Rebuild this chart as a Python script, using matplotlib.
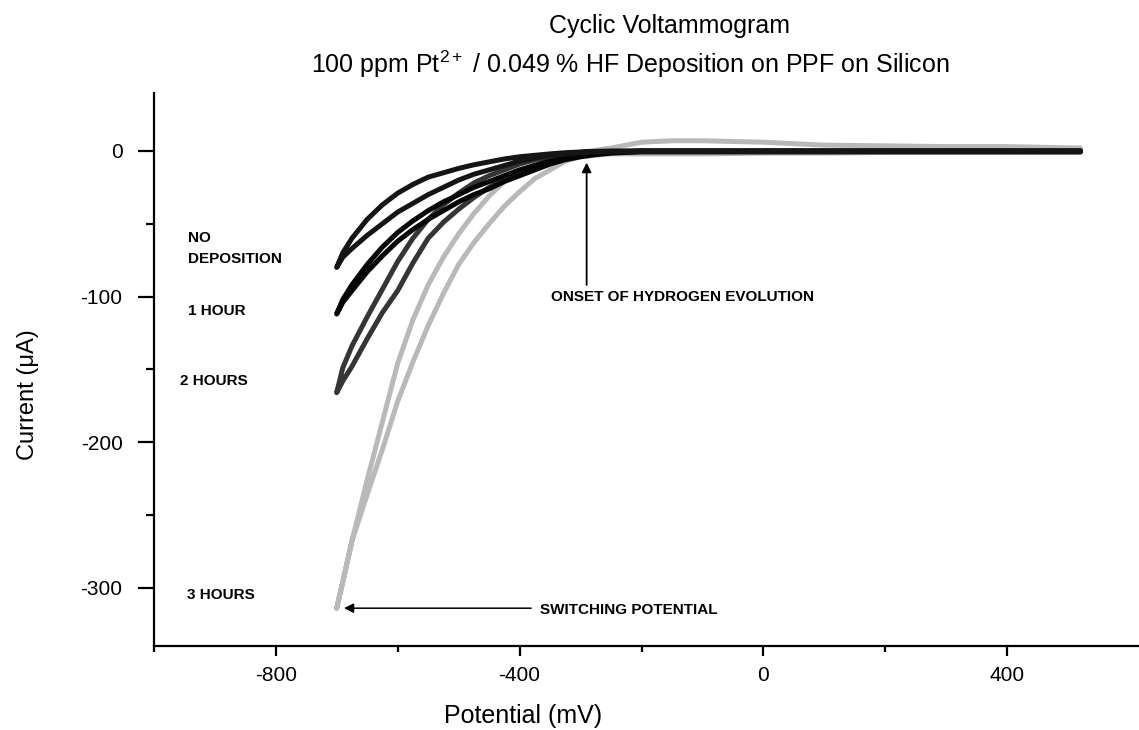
import matplotlib
matplotlib.use('Agg')
import matplotlib.pyplot as plt
from matplotlib.ticker import MultipleLocator, FixedLocator

plt.rcParams['font.family'] = ['Liberation Sans', 'DejaVu Sans']
plt.rcParams['mathtext.fontset'] = 'custom'
plt.rcParams['mathtext.rm'] = 'Liberation Sans'
plt.rcParams['mathtext.it'] = 'Liberation Sans:italic'
plt.rcParams['axes.unicode_minus'] = False

# potential grid (mV) of each sweep branch
E_GRID = [520, 400, 300, 200, 100, 0, -100, -150, -200, -250, -275, -300, -325, -350, -375,
          -400, -425, -450, -475, -500, -525, -550, -575, -600, -625, -650, -675, -690, -700]

# current (uA): branch A = upper line of each loop, branch B = lower line
NODEP_A = [0, 0, 0, 0, 0, 0, 0, 0, 0, 0, -0.3, -0.7, -1.2, -2, -3,
           -4, -5.5, -7.5, -9.5, -12, -15, -18, -23, -29, -37, -47, -60, -70, -80]
NODEP_B = [-0.5, -0.5, -0.5, -0.5, -0.5, -0.5, -0.5, -0.5, -0.5, -0.5, -0.7, -1, -2, -3, -5,
           -7, -10, -13, -16, -20, -25, -30, -36, -42, -50, -58, -67, -73, -80]
HOUR1_A = [0, 0, 0, 0, 0, 0, 0, 0, 0, -1, -2, -3, -5, -7, -10,
           -13, -17, -21, -25, -30, -35, -41, -48, -56, -66, -78, -92, -102, -112]
HOUR1_B = [-0.5, -0.5, -0.5, -0.5, -0.5, -0.5, -0.5, -0.5, -0.5, -1.5, -2.5, -4, -6, -9, -13,
           -17, -21, -26, -30, -35, -41, -47, -54, -62, -72, -83, -96, -104, -112]
HOUR2_A = [0, 0, 0, 0, 0, 0, 0, 0, 0, -0.5, -1, -1.5, -2.5, -4, -6,
           -9, -13, -17, -22, -29, -37, -47, -60, -76, -95, -114, -134, -149, -166]
HOUR2_B = [-0.5, -0.5, -0.5, -0.5, -0.5, -0.5, -0.5, -0.5, -0.5, -1, -2, -3, -5, -7, -10,
           -14, -19, -25, -32, -40, -49, -60, -77, -96, -111, -129, -148, -158, -166]
HOUR3_A = [2, 3, 3, 3.5, 4, 6, 7, 7, 6, 2, 0.5, -1, -3, -5, -9,
           -14, -21, -31, -43, -57, -73, -92, -116, -146, -186, -226, -268, -296, -314]
HOUR3_B = [-1, -1, -1, -1, -1.5, -1.5, -2, -2, -2, -2, -3, -4, -7, -13, -19,
           -28, -38, -50, -63, -78, -98, -120, -145, -172, -205, -236, -268, -296, -314]

CURVES = [
    (NODEP_A, NODEP_B, '#151515'),
    (HOUR1_A, HOUR1_B, '#050505'),
    (HOUR2_A, HOUR2_B, '#353535'),
    (HOUR3_A, HOUR3_B, '#b9b9b9'),
]

fig = plt.figure(figsize=(11.39, 7.30), dpi=100, facecolor='white')
ax = fig.add_axes([0.135, 0.115, 0.865, 0.758])

for fwd, rev, farbe in reversed(CURVES):
    # cathodic sweep down to the switching potential and back again
    x = E_GRID + E_GRID[::-1]
    y = fwd + rev[::-1]
    ax.plot(x, y, color=farbe, lw=3.6, solid_joinstyle='round', solid_capstyle='round', zorder=3)

ax.set_xlim(-1000, 616)
ax.set_ylim(-340, 40)

ax.spines['top'].set_visible(False)
ax.spines['right'].set_visible(False)
for s in ('left', 'bottom'):
    ax.spines[s].set_linewidth(1.6)

ax.xaxis.set_major_locator(MultipleLocator(400))
ax.xaxis.set_minor_locator(FixedLocator([-1000, -600, -200, 200]))
ax.yaxis.set_major_locator(MultipleLocator(100))
ax.yaxis.set_minor_locator(MultipleLocator(50))
ax.tick_params(axis='x', which='major', direction='out', length=7.5, width=1.6, pad=7, labelsize=15)
ax.tick_params(axis='x', which='minor', direction='out', length=4, width=1.6)
ax.tick_params(axis='y', which='major', direction='out', length=11.5, width=1.6, pad=11, labelsize=15)
ax.tick_params(axis='y', which='minor', direction='out', length=6, width=1.6)

ax.set_xlabel('Potential (mV)', fontsize=18)
ax.xaxis.set_label_coords(0.375, -0.105)
ax.set_ylabel('Current (\u03bcA)', fontsize=17, va='center')
ax.yaxis.set_label_coords(-0.128, 0.454)

fig.text(0.588, 0.965, 'Cyclic Voltammogram', ha='center', va='center', fontsize=18)
fig.text(0.553, 0.912, r'100 ppm Pt$^{2+}$ / 0.049 % HF Deposition on PPF on Silicon',
         ha='center', va='center', fontsize=18)

# Beschriftungen der Kurven
lab = dict(fontsize=11, fontweight='bold', ha='left', va='center')
ax.text(-944, -60, 'NO', **lab)
ax.text(-944, -74, 'DEPOSITION', **lab)
ax.text(-944, -110, '1 HOUR', **lab)
ax.text(-957, -158, '2 HOURS', **lab)
ax.text(-945, -305, '3 HOURS', **lab)
ax.text(-348, -100.5, 'ONSET OF HYDROGEN EVOLUTION', **lab)
ax.text(-367, -315, 'SWITCHING POTENTIAL', **lab)

ax.annotate('', xy=(-290, -8), xytext=(-290, -92),
            arrowprops=dict(arrowstyle='-|>', color='black', lw=1.3, mutation_scale=14, shrinkA=0, shrinkB=0))
ax.annotate('', xy=(-688, -314), xytext=(-381, -314),
            arrowprops=dict(arrowstyle='-|>', color='black', lw=1.1, mutation_scale=14, shrinkA=0, shrinkB=0))

fig.savefig('out.png', dpi=100, facecolor='white')
